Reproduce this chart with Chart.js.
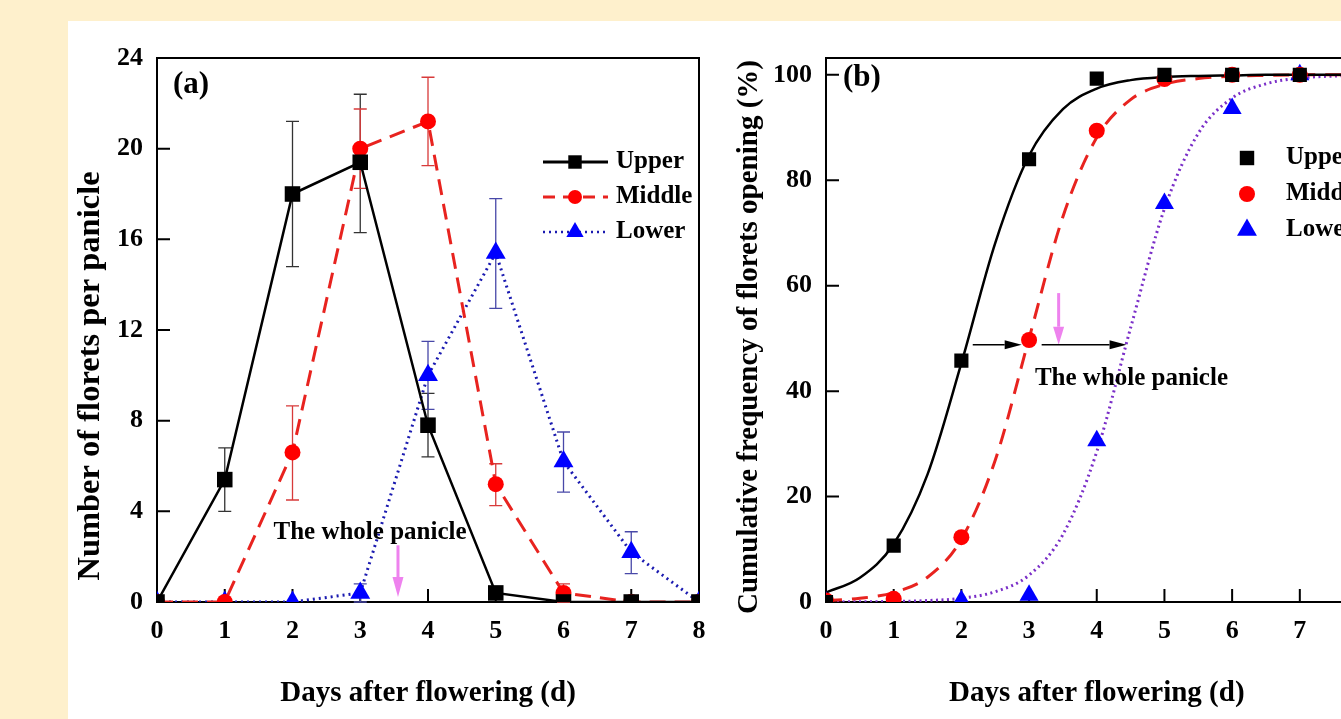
<!DOCTYPE html>
<html><head><meta charset="utf-8">
<script src="https://cdn.jsdelivr.net/npm/chart.js@4/dist/chart.umd.min.js"></script>
<style>
html,body{margin:0;padding:0;width:1341px;height:719px;overflow:hidden;background:#FEF0CC;}
#panel{position:absolute;left:68px;top:21px;width:1273px;height:698px;background:#fff;overflow:hidden;}
#wa{position:absolute;left:0;top:0;width:660px;height:698px;}
#wb{position:absolute;left:660px;top:0;width:660px;height:698px;}
canvas{display:block;}
</style></head><body>
<div id="panel">
  <div id="wa"><canvas id="ca" width="660" height="698"></canvas></div>
  <div id="wb"><canvas id="cb" width="660" height="698"></canvas></div>
</div>
<script>
// ---------- data ----------
const days = [0, 1, 2, 3, 4, 5, 6, 7, 8];
const seriesNames = ['Upper', 'Middle', 'Lower'];
const xTicks = [0, 1, 2, 3, 4, 5, 6, 7, 8];
const yTicksA = [0, 4, 8, 12, 16, 20, 24];
const yTicksB = [0, 20, 40, 60, 80, 100];

// (a) florets per panicle
const upperA = [0, 5.4, 18.0, 19.4, 7.8, 0.4, 0, 0, 0];
const upperA_hi = [null, 6.8, 21.2, 22.4, 9.2, 0.65, null, null, null];
const upperA_lo = [null, 4.0, 14.8, 16.3, 6.4, 0.15, null, null, null];
const middleA = [0, 0, 6.6, 20.0, 21.2, 5.2, 0.4, 0, 0];
const middleA_hi = [null, null, 8.65, 21.75, 23.15, 6.1, 0.8, null, null];
const middleA_lo = [null, null, 4.5, 18.25, 19.25, 4.25, 0, null, null];
const lowerA = [0, 0, 0, 0.4, 10.0, 15.4, 6.2, 2.2, 0];
const lowerA_hi = [null, null, null, 0.8, 11.5, 17.8, 7.5, 3.1, null];
const lowerA_lo = [null, null, null, 0, 8.5, 12.95, 4.85, 1.25, null];

// (b) cumulative frequency (%)
const upperB = [0, 10.7, 45.8, 84.0, 99.3, 100, 100, 100, 100];
const middleB = [0.3, 0.6, 12.3, 49.7, 89.4, 99.2, 100, 100, 100];
const lowerB = [0, 0, 0.3, 1.3, 30.6, 75.6, 93.6, 100, 100];

// fitted curves (half-day steps)
const fitDays = [0, 0.5, 1, 1.5, 2, 2.5, 3, 3.5, 4, 4.5, 5, 5.5, 6, 6.5, 7, 7.5, 8];
const upperFit = [1.8, 4.6, 11.0, 24.2, 45.3, 68.1, 84.7, 93.5, 97.4, 99.0, 99.6, 99.8, 99.9, 100, 100, 100, 100];
const middleFit = [0.25, 0.7, 1.8, 4.7, 11.9, 26.9, 50.0, 73.1, 88.1, 95.3, 98.2, 99.3, 99.75, 99.9, 100, 100, 100];
const lowerFit = [0.01, 0.04, 0.1, 0.27, 0.7, 1.95, 5.1, 12.8, 28.5, 52.0, 74.6, 88.9, 95.6, 98.3, 99.4, 99.77, 99.9];

// ---------- helpers ----------
const FAM = '"Liberation Serif", "Times New Roman", serif';
function font(sz){ return 'bold ' + sz + 'px ' + FAM; }
const pts = (xs, ys) => xs.map((d, i) => ({x: d, y: ys[i]}));

function marker(ctx, style, x, y, r, color){
  ctx.fillStyle = color; ctx.beginPath();
  if (style === 'rect'){ const s = r * Math.SQRT1_2; ctx.rect(x - s, y - s, 2 * s, 2 * s); }
  else if (style === 'circle'){ ctx.arc(x, y, r, 0, Math.PI * 2); }
  else { ctx.moveTo(x, y - r); ctx.lineTo(x + r * 0.866, y + r / 2); ctx.lineTo(x - r * 0.866, y + r / 2); ctx.closePath(); }
  ctx.fill();
}
function arrow(ctx, x1, y1, x2, y2, color, lw, headLen, headHalf){
  const ang = Math.atan2(y2 - y1, x2 - x1);
  const bx = x2 - headLen * Math.cos(ang), by = y2 - headLen * Math.sin(ang);
  ctx.strokeStyle = color; ctx.lineWidth = lw; ctx.setLineDash([]);
  ctx.beginPath(); ctx.moveTo(x1, y1); ctx.lineTo(bx, by); ctx.stroke();
  ctx.fillStyle = color; ctx.beginPath();
  ctx.moveTo(x2, y2);
  ctx.lineTo(bx + headHalf * Math.sin(ang), by - headHalf * Math.cos(ang));
  ctx.lineTo(bx - headHalf * Math.sin(ang), by + headHalf * Math.cos(ang));
  ctx.closePath(); ctx.fill();
}

// ---------- plugins ----------
const frame = {
  id: 'frame',
  beforeDatasetsDraw(chart){
    const {ctx, chartArea: a, scales: {x, y}} = chart;
    ctx.save();
    ctx.strokeStyle = '#000'; ctx.lineWidth = 2; ctx.setLineDash([]);
    ctx.strokeRect(a.left, a.top, a.right - a.left, a.bottom - a.top);
    ctx.beginPath();
    x.ticks.forEach(t => { const p = x.getPixelForValue(t.value); ctx.moveTo(p, a.bottom); ctx.lineTo(p, a.bottom - 13); });
    y.ticks.forEach(t => { const p = y.getPixelForValue(t.value); ctx.moveTo(a.left, p); ctx.lineTo(a.left + 13, p); });
    ctx.stroke();
    ctx.restore();
  }
};
const errorBars = {
  id: 'errorBars',
  beforeDatasetsDraw(chart, args, o){
    if (!o || !o.sets) return;
    const {ctx, scales: {x, y}} = chart;
    ctx.save();
    o.sets.forEach(s => {
      ctx.strokeStyle = s.color; ctx.lineWidth = 1.3; ctx.setLineDash([]);
      ctx.beginPath();
      days.forEach((d, i) => {
        if (s.hi[i] == null) return;
        const px = x.getPixelForValue(d), p1 = y.getPixelForValue(s.lo[i]), p2 = y.getPixelForValue(s.hi[i]);
        ctx.moveTo(px, p1); ctx.lineTo(px, p2);
        ctx.moveTo(px - 6.5, p1); ctx.lineTo(px + 6.5, p1);
        ctx.moveTo(px - 6.5, p2); ctx.lineTo(px + 6.5, p2);
      });
      ctx.stroke();
    });
    ctx.restore();
  }
};
const annot = {
  id: 'annot',
  afterDatasetsDraw(chart, args, o){
    if (!o || !o.label) return;
    const {ctx, chartArea: a, scales: {x, y}} = chart;
    ctx.save();
    (o.arrows || []).forEach(r => arrow(ctx, x.getPixelForValue(r.x1), y.getPixelForValue(r.y1),
      x.getPixelForValue(r.x2), y.getPixelForValue(r.y2), r.color, r.lw, r.head, r.half));
    ctx.textBaseline = 'middle';
    (o.texts || []).forEach(t => {
      ctx.font = font(t.size); ctx.textAlign = 'center'; ctx.fillStyle = '#000';
      ctx.fillText(t.text, x.getPixelForValue(t.x), y.getPixelForValue(t.y));
    });
    ctx.font = font(o.label.size); ctx.textAlign = 'left'; ctx.fillStyle = '#000';
    ctx.fillText(o.label.text, a.left + o.label.dx, a.top + o.label.dy);
    // rotated y-axis title
    const T = o.ytitle;
    ctx.save();
    ctx.translate(a.left + T.dx, a.top + T.dy);
    ctx.rotate(-Math.PI / 2);
    ctx.font = font(T.size); ctx.textAlign = 'center'; ctx.fillStyle = '#000';
    ctx.fillText(T.text, 0, 0);
    ctx.restore();
    const L = o.legend;
    L.items.forEach((it, i) => {
      const cy = a.top + L.dy + i * L.gap;
      if (it.line){
        ctx.strokeStyle = it.line; ctx.lineWidth = it.lw; ctx.setLineDash(it.dash || []);
        ctx.beginPath(); ctx.moveTo(a.left + L.lx1, cy); ctx.lineTo(a.left + L.lx2, cy); ctx.stroke();
        ctx.setLineDash([]);
      }
      marker(ctx, it.style, a.left + L.mx, cy, it.r, it.color);
      ctx.fillStyle = '#000'; ctx.font = font(L.size); ctx.textAlign = 'left';
      ctx.fillText(seriesNames[i], a.left + L.tx, cy);
    });
    ctx.restore();
  }
};

function scalesFor(yMin, yMax, yTicks, yWidth){
  const tickFont = {family: FAM, size: 26, weight: 'bold', lineHeight: 1.2};
  const titleFont = {family: FAM, size: 29, weight: 'bold', lineHeight: 1.2};
  return {
    x: {
      type: 'linear', min: 0, max: 8,
      grid: {display: false, drawTicks: false}, border: {display: false},
      afterBuildTicks: s => { s.ticks = xTicks.map(v => ({value: v})); },
      afterFit: s => { s.height = 117; },
      ticks: {font: tickFont, color: '#000', padding: 14, maxRotation: 0, autoSkip: false, callback: v => String(v)},
      title: {display: true, text: 'Days after flowering (d)', font: titleFont, color: '#000', padding: {top: 0, bottom: 8}}
    },
    y: {
      type: 'linear', min: yMin, max: yMax,
      grid: {display: false, drawTicks: false}, border: {display: false},
      afterBuildTicks: s => { s.ticks = yTicks.map(v => ({value: v})); },
      afterFit: s => { s.width = yWidth; },
      ticks: {font: tickFont, color: '#000', padding: 14, autoSkip: false, callback: v => String(v)},
      title: {display: false}
    }
  };
}

// ---------- chart (a) ----------
new Chart(document.getElementById('ca'), {
  type: 'line',
  data: {
    datasets: [
      {label: seriesNames[0], data: pts(days, upperA), borderColor: '#000', borderWidth: 2.5, tension: 0,
        pointStyle: 'rect', pointRadius: 11, pointBackgroundColor: '#000', pointBorderColor: '#000', pointBorderWidth: 0},
      {label: seriesNames[1], data: pts(days, middleA), borderColor: '#E8231F', borderWidth: 3, borderDash: [16, 9], tension: 0,
        pointStyle: 'circle', pointRadius: 8, pointBackgroundColor: '#FF0000', pointBorderColor: '#FF0000', pointBorderWidth: 0},
      {label: seriesNames[2], data: pts(days, lowerA), borderColor: '#1A1AB0', borderWidth: 3, borderDash: [2, 4], tension: 0,
        pointStyle: 'triangle', pointRadius: 11.5, pointBackgroundColor: '#0000FF', pointBorderColor: '#0000FF', pointBorderWidth: 0}
    ]
  },
  options: {
    responsive: false, animation: false, events: [],
    layout: {padding: {left: 0, top: 37, right: 29, bottom: 0}},
    scales: scalesFor(0, 24, yTicksA, 89),
    plugins: {
      legend: {display: false}, tooltip: {enabled: false},
      errorBars: {sets: [
        {hi: upperA_hi, lo: upperA_lo, color: '#333'},
        {hi: middleA_hi, lo: middleA_lo, color: '#D83A3A'},
        {hi: lowerA_hi, lo: lowerA_lo, color: '#4848A8'}
      ]},
      annot: {
        label: {text: '(a)', size: 31, dx: 16, dy: 27},
        ytitle: {text: 'Number of florets per panicle', size: 32.5, dx: -66, dy: 318},
        texts: [{text: 'The whole panicle', x: 3.144, y: 3.05, size: 25}],
        arrows: [{x1: 3.557, y1: 2.5, x2: 3.557, y2: 0.22, color: '#EE82EE', lw: 3, head: 20, half: 5.5}],
        legend: {lx1: 386, lx2: 451, mx: 418, tx: 459, dy: 104, gap: 35, size: 25, items: [
          {style: 'rect', r: 9.5, color: '#000', line: '#000', lw: 3},
          {style: 'circle', r: 7, color: '#FF0000', line: '#E8231F', lw: 3, dash: [12, 8]},
          {style: 'triangle', r: 10, color: '#0000FF', line: '#1A1AB0', lw: 2.5, dash: [2, 4]}
        ]}
      }
    }
  },
  plugins: [frame, errorBars, annot]
});

// ---------- chart (b) ----------
new Chart(document.getElementById('cb'), {
  type: 'line',
  data: {
    datasets: [
      {label: seriesNames[0], data: pts(days, upperB), showLine: false,
        pointStyle: 'rect', pointRadius: 10, pointBackgroundColor: '#000', pointBorderColor: '#000', pointBorderWidth: 0},
      {label: seriesNames[1], data: pts(days, middleB), showLine: false,
        pointStyle: 'circle', pointRadius: 8, pointBackgroundColor: '#FF0000', pointBorderColor: '#FF0000', pointBorderWidth: 0},
      {label: seriesNames[2], data: pts(days, lowerB), showLine: false,
        pointStyle: 'triangle', pointRadius: 11, pointBackgroundColor: '#0000FF', pointBorderColor: '#0000FF', pointBorderWidth: 0},
      {label: 'Upper fit', data: pts(fitDays, upperFit), borderColor: '#000', borderWidth: 2.5, pointRadius: 0, cubicInterpolationMode: 'monotone'},
      {label: 'Middle fit', data: pts(fitDays, middleFit), borderColor: '#E8231F', borderWidth: 3, borderDash: [16, 10], pointRadius: 0, cubicInterpolationMode: 'monotone'},
      {label: 'Lower fit', data: pts(fitDays, lowerFit), borderColor: '#7A2EC8', borderWidth: 3, borderDash: [2, 3.5], pointRadius: 0, cubicInterpolationMode: 'monotone'}
    ]
  },
  options: {
    responsive: false, animation: false, events: [],
    layout: {padding: {left: 0, top: 37, right: 20, bottom: 0}},
    scales: scalesFor(0, 103.2, yTicksB, 98),
    plugins: {
      legend: {display: false}, tooltip: {enabled: false},
      annot: {
        label: {text: '(b)', size: 31, dx: 17, dy: 20},
        ytitle: {text: 'Cumulative frequency of florets opening (%)', size: 29, dx: -76, dy: 279},
        texts: [{text: 'The whole panicle', x: 4.513, y: 42.3, size: 25}],
        arrows: [
          {x1: 3.437, y1: 58.6, x2: 3.437, y2: 48.8, color: '#EE82EE', lw: 3, head: 18, half: 5.5},
          {x1: 2.168, y1: 48.8, x2: 2.891, y2: 48.8, color: '#000', lw: 1.5, head: 17, half: 4.5},
          {x1: 3.186, y1: 48.8, x2: 4.44, y2: 48.8, color: '#000', lw: 1.5, head: 17, half: 4.5}
        ],
        legend: {mx: 421, tx: 460, dy: 100, gap: 36, size: 25, items: [
          {style: 'rect', r: 10.2, color: '#000'},
          {style: 'circle', r: 8, color: '#FF0000'},
          {style: 'triangle', r: 11.5, color: '#0000FF'}
        ]}
      }
    }
  },
  plugins: [frame, annot]
});
</script>
</body></html>
